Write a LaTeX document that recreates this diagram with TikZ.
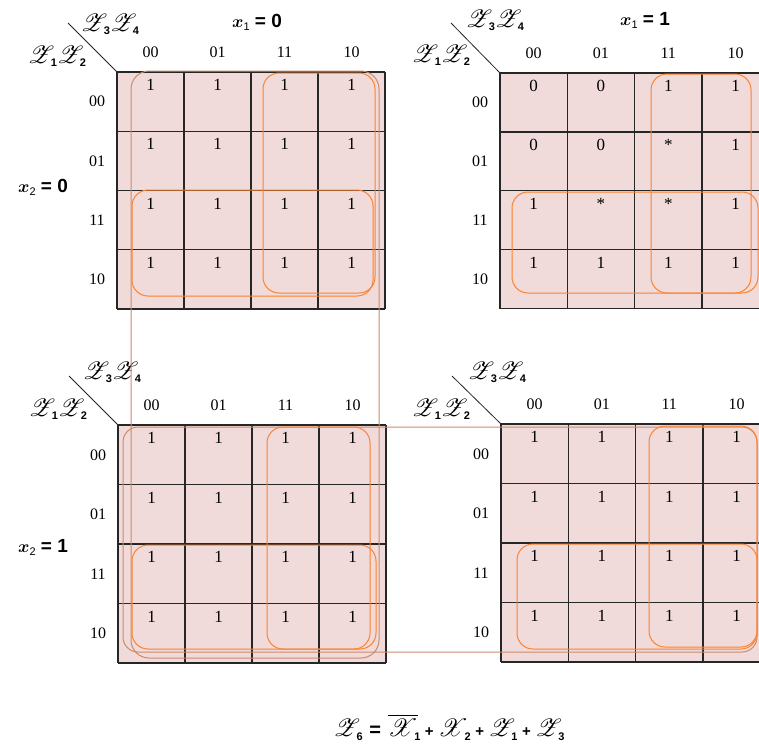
\documentclass[tikz,border=0pt]{standalone}
\usepackage{amsmath}
\usepackage{mathrsfs}
\usepackage{bm}
\usepackage{fontspec}
\setmainfont{Liberation Serif}
\newfontfamily\labfont{Liberation Sans}
\definecolor{cellfill}{RGB}{240,218,218}
\definecolor{loopor}{RGB}{255,130,45}
\definecolor{looptan}{RGB}{202,140,108}
\newcommand\Zsub[2]{$\mathscr{#1}$\kern-3.5pt\raisebox{-0.3ex}{\fontsize{11}{11}\labfont\bfseries #2}}
\newcommand\kmap[6]{%
  \fill[cellfill] (#2,#3) rectangle ++({4*#4},{4*#5});
  \coordinate (#1-nw) at (#2,#3);
  \foreach \i in {0,...,4}{
    \draw[gridline] ({#2+\i*#4},#3) -- ++(0,{4*#5});
    \draw[gridline] (#2,{#3+\i*#5}) -- ++({4*#4},0);
  }
  \foreach \v [count=\k from 0] in {#6}{
    \pgfmathtruncatemacro\rr{int(\k/4)}
    \pgfmathtruncatemacro\cc{mod(\k,4)}
    \node[cellval] (#1-\rr-\cc) at ({#2+(\cc+0.5)*#4},{#3+\rr*#5+13}) {\v};
  }
  \foreach \t [count=\k from 0] in {00,01,11,10}{
    \node[hdr] (#1-col\k) at ({#2+(\k+0.5)*#4},{#3-20}) {\t};
    \node[hdr] (#1-row\k) at ({#2-20},{#3+(\k+0.5)*#5}) {\t};
  }
}
\begin{document}
\begin{tikzpicture}[x=1pt,y=-1pt,
  gridline/.style={line width=1.3pt,black!85},
  cellval/.style={inner sep=0pt,font=\fontsize{17}{17}\selectfont},
  hdr/.style={inner sep=0pt,font=\fontsize{16}{16}\selectfont},
  varlab/.style={inner sep=0pt,font=\fontsize{23}{23}\selectfont},
  title/.style={inner sep=0pt,font=\fontsize{19}{19}\selectfont\labfont\bfseries},
  orloop/.style={draw=loopor,line width=1pt,rounded corners=16pt},
  tanloop/.style={draw=looptan,line width=1pt,rounded corners=18pt},
  diag/.style={line width=0.8pt,black!85}]
\clip (0,0) rectangle (759,748);
\fill[white] (0,0) rectangle (759,748);

\kmap{tl}{117}{72}{67}{59.25}{1,1,1,1, 1,1,1,1, 1,1,1,1, 1,1,1,1}
\kmap{tr}{500}{73}{67.3}{58.9}{0,0,1,1, 0,0,*,1, 1,*,*,1, 1,1,1,1}
\kmap{bl}{118}{425}{67}{59.5}{1,1,1,1, 1,1,1,1, 1,1,1,1, 1,1,1,1}
\kmap{br}{501}{424}{67.3}{59.5}{1,1,1,1, 1,1,1,1, 1,1,1,1, 1,1,1,1}

% corner labels
\coordinate (tl-d) at (68,23);
\coordinate (tr-d) at (451,23);
\coordinate (bl-d) at (69,376);
\coordinate (br-d) at (452,376);
\draw[diag] (tl-d) -- (tl-nw);
\draw[diag] (tr-d) -- (tr-nw);
\draw[diag] (bl-d) -- (bl-nw);
\draw[diag] (br-d) -- (br-nw);

\node[varlab] (tl-z34) at (110,24) {\Zsub{Z}{3}\Zsub{Z}{4}};
\node[varlab] (tl-z12) at (57,56) {\Zsub{Z}{1}\Zsub{Z}{2}};
\node[varlab] (tr-z34) at (495,20) {\Zsub{Z}{3}\Zsub{Z}{4}};
\node[varlab] (tr-z12) at (441,55) {\Zsub{Z}{1}\Zsub{Z}{2}};
\node[varlab] (bl-z34) at (112,372) {\Zsub{Z}{3}\Zsub{Z}{4}};
\node[varlab] (bl-z12) at (58,409) {\Zsub{Z}{1}\Zsub{Z}{2}};
\node[varlab] (br-z34) at (497,372) {\Zsub{Z}{3}\Zsub{Z}{4}};
\node[varlab] (br-z12) at (441,409) {\Zsub{Z}{1}\Zsub{Z}{2}};

\node[title] (x1a) at (257,22) {$\bm{x}$\raisebox{-0.3ex}{\fontsize{11}{11}\selectfont\mdseries 1}\ =\ 0};
\node[title] (x1b) at (645,20) {$\bm{x}$\raisebox{-0.3ex}{\fontsize{11}{11}\selectfont\mdseries 1}\ =\ 1};
\node[title] (x2a) at (43,187) {$\bm{x}$\raisebox{-0.3ex}{\fontsize{11}{11}\selectfont\mdseries 2}\ =\ 0};
\node[title] (x2b) at (43,547) {$\bm{x}$\raisebox{-0.3ex}{\fontsize{11}{11}\selectfont\mdseries 2}\ =\ 1};

% loops
\draw[tanloop] (131,71) rectangle (379,658);
\draw[tanloop,rounded corners=15pt] (123,427) rectangle (757,652);
\draw[orloop] (263,73) rectangle (375,293);
\draw[orloop] (132,190) rectangle (373,296);
\draw[orloop] (651,74) rectangle (751,293);
\draw[orloop] (512,192) rectangle (758,293);
\draw[orloop] (267,427) rectangle (370,649);
\draw[orloop] (132,545) rectangle (376,649);
\draw[orloop] (649,426) rectangle (757,647);
\draw[orloop] (517,544) rectangle (757,649);

% result
\node[inner sep=0pt,font=\fontsize{27}{27}\selectfont] (eq) at (449,727)
  {\Zsub{Z}{6}\ {\labfont\bfseries\fontsize{20}{20}\selectfont =}\ $\overline{\mathscr{X}}$\Zsub{}{1}\,{\labfont\bfseries\fontsize{15}{15}\selectfont +}\,\Zsub{X}{2}\,{\labfont\bfseries\fontsize{15}{15}\selectfont +}\,\Zsub{Z}{1}\,{\labfont\bfseries\fontsize{15}{15}\selectfont +}\,\Zsub{Z}{3}};
\end{tikzpicture}
\end{document}
